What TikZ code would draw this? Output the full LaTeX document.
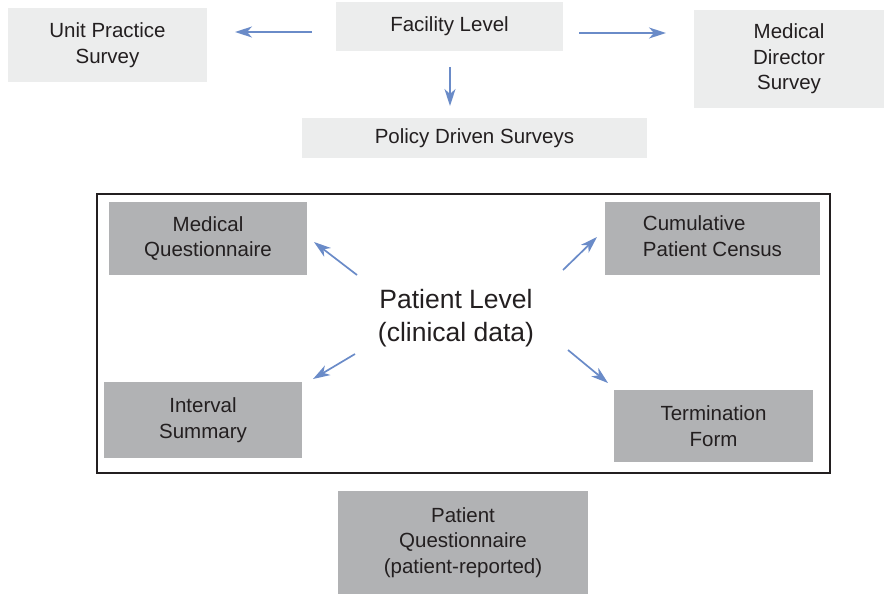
\documentclass[tikz,border=0pt]{standalone}
\usepackage{fontspec}
\setmainfont{Liberation Sans}
\usetikzlibrary{arrows.meta}
\definecolor{lightbox}{HTML}{ECEDED}
\definecolor{darkbox}{HTML}{B1B2B4}
\definecolor{arrowblue}{HTML}{6A8BC8}
\definecolor{ink}{HTML}{231F20}
\begin{document}
\begin{tikzpicture}[x=1pt,y=-1pt,
  every node/.style={text=ink, font=\fontsize{20.5}{25.5}\selectfont},
  facbox/.style={fill=lightbox, inner sep=0pt, align=center},
  patbox/.style={fill=darkbox, inner sep=0pt, align=center},
  arr/.style={draw=arrowblue, line width=1.7pt,
    -{Stealth[length=17pt,width=11pt,inset=5pt]}}]
\useasboundingbox (0,0) rectangle (884,594);

% facility level surveys
\node[facbox, minimum width=227pt, minimum height=49pt] (fac) at (449.5,26.5) {Facility Level};
\node[facbox, minimum width=199pt, minimum height=74pt] (ups) at (107.5,45) {Unit Practice\\Survey};
\node[facbox, minimum width=190pt, minimum height=98pt] (mds) at (789,59) {Medical\\Director\\Survey};
\node[facbox, minimum width=345pt, minimum height=40pt] (pds) at (474.5,138) {Policy Driven Surveys};

\coordinate (aL1) at (312,32);  \coordinate (aL2) at (235,32);
\coordinate (aR1) at (579,33);  \coordinate (aR2) at (666,33);
\coordinate (aD1) at (450,67);  \coordinate (aD2) at (450,106);
\draw[arr] (aL1) -- (aL2);
\draw[arr] (aR1) -- (aR2);
\draw[arr] (aD1) -- (aD2);

% patient level frame
\draw[ink, line width=2pt] (96.5,193.5) rectangle (830,473);
\node[font=\fontsize{26.5}{33}\selectfont, align=center] (pl) at (456,318) {Patient Level\\(clinical data)};

\node[patbox, minimum width=198pt, minimum height=73pt] (mq) at (208,238.5) {Medical\\Questionnaire};
\node[patbox, minimum width=215pt, minimum height=73pt] (cpc) at (712.5,238.5) {\begin{tabular}{@{}l@{}}Cumulative\\Patient Census\end{tabular}};
\node[patbox, minimum width=198pt, minimum height=76pt] (is) at (203,420) {Interval\\Summary};
\node[patbox, minimum width=199pt, minimum height=72pt] (tf) at (713.5,426) {Termination\\Form};
\node[patbox, minimum width=250pt, minimum height=103pt] (pq) at (463,542.5) {Patient\\Questionnaire\\(patient-reported)};

\coordinate (b1) at (357,275); \coordinate (b2) at (314,242);
\coordinate (c1) at (563,270); \coordinate (c2) at (597,237);
\coordinate (d1) at (355,354); \coordinate (d2) at (313,379);
\coordinate (e1) at (568,350); \coordinate (e2) at (608,383);
\draw[arr] (b1) -- (b2);
\draw[arr] (c1) -- (c2);
\draw[arr] (d1) -- (d2);
\draw[arr] (e1) -- (e2);
\end{tikzpicture}
\end{document}
